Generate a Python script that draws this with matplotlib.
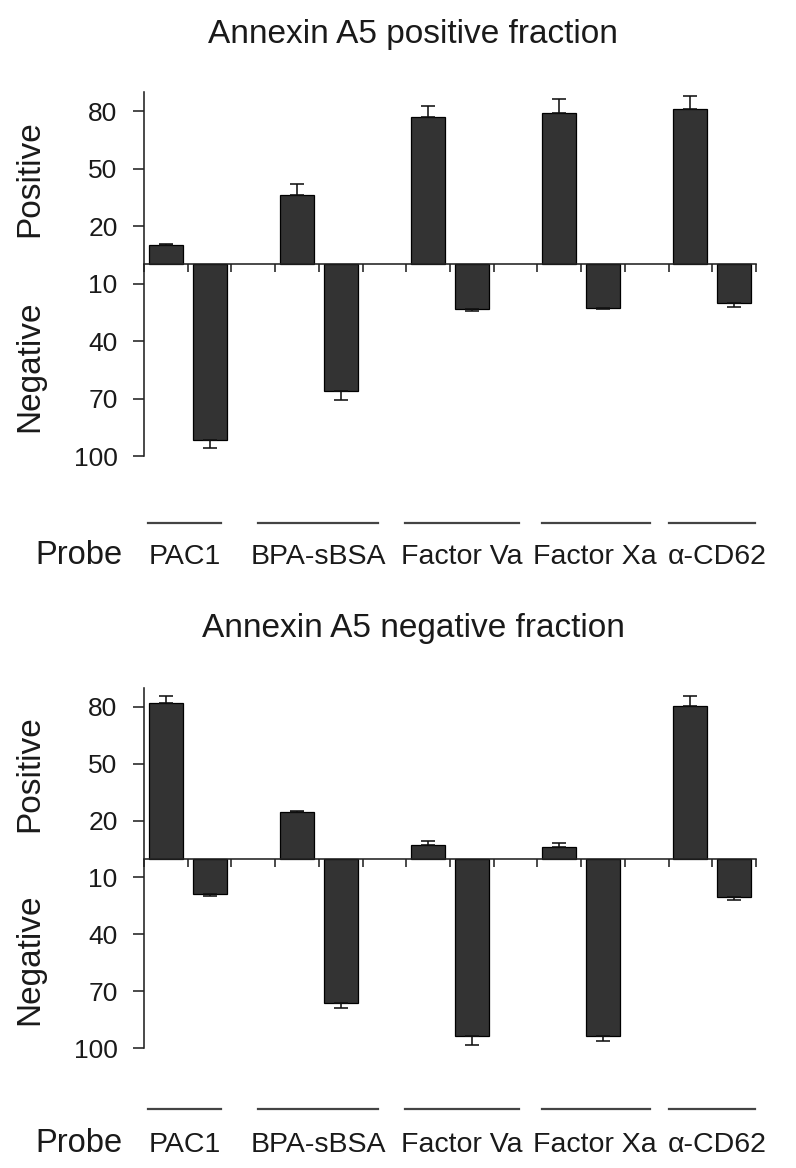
import numpy as np
import matplotlib
matplotlib.use('Agg')
import matplotlib.pyplot as plt
from matplotlib.transforms import blended_transform_factory
from matplotlib.lines import Line2D

### Data (percent of cells)
probes = ['PAC1', 'BPA-sBSA', 'Factor Va', 'Factor Xa', 'α-CD62']
titles = ['Annexin A5 positive fraction', 'Annexin A5 negative fraction']

### Annexin A5 positive fraction
top_pos = [10, 36, 77, 79, 81]
top_pos_err = [0.5, 6, 5.5, 7.5, 7]
top_neg = [91.5, 66, 23.5, 22.5, 20]
top_neg_err = [4.5, 5, 1, 1, 2]

### Annexin A5 negative fraction
bot_pos = [82, 24.5, 7, 6, 80.5]
bot_pos_err = [4, 0.5, 2, 2, 5.5]
bot_neg = [18.5, 76.5, 93.5, 93.5, 20.5]
bot_neg_err = [1.5, 2.5, 5, 3, 1.5]

pos_ticks = [80, 50, 20]
neg_ticks = [10, 40, 70, 100]

W, H = 796, 1168
plt.rcParams['font.family'] = ['Liberation Sans', 'DejaVu Sans']

### Layout (pixels of the output picture)
label_x = [0.94, 3.98, 7.28, 10.32, 13.11]
line_spans = [(0.1, 1.75), (2.6, 5.35), (5.97, 8.58), (9.1, 11.58), (12.0, 13.97)]


def fy(py):
	''' Pixel row (from top) to figure fraction '''
	return 1 - py/H


def draw_panel(fig, top_px, bot_px, title, title_base, line_y, label_base, pos, pos_err, neg, neg_err):
	ax = fig.add_axes([144/W, fy(bot_px), 612/W, (bot_px-top_px)/H])
	n = len(probes)
	xpos = np.arange(n)*3 + 0.5
	xneg = xpos + 1
	pos = np.array(pos)
	neg = -np.array(neg)
	zero = np.zeros(n)

	ax.bar(xpos, pos, width=0.78, color='#333333', edgecolor='black', linewidth=0.9)
	ax.bar(xneg, neg, width=0.78, color='#333333', edgecolor='black', linewidth=0.9)
	### One-sided error bars, pointing away from zero
	ax.errorbar(xpos, pos, yerr=[zero, pos_err], fmt='none', ecolor='#111111',
				elinewidth=1.15, capsize=5, capthick=1.15)
	ax.errorbar(xneg, neg, yerr=[neg_err, zero], fmt='none', ecolor='#111111',
				elinewidth=1.15, capsize=5, capthick=1.15)

	ax.set_xlim(0, 3*n - 1)
	ax.set_ylim(-100, 90)
	ax.spines['top'].set_visible(False)
	ax.spines['right'].set_visible(False)
	ax.spines['bottom'].set_position(('data', 0))
	for s in ['left', 'bottom']:
		ax.spines[s].set_linewidth(1.15)
		ax.spines[s].set_color('#222222')

	ax.set_xticks(np.arange(0, 3*n))
	ax.set_xticklabels([])
	ax.tick_params(axis='x', direction='out', length=6, width=1.15, color='#222222')
	ax.set_yticks(pos_ticks + [-v for v in neg_ticks])
	ax.set_yticklabels([str(v) for v in pos_ticks + neg_ticks])
	ax.tick_params(axis='y', direction='out', length=8, width=1.15, pad=11,
				   labelsize=19, color='#222222', labelcolor='#1a1a1a')

	### Positive / Negative side labels
	tr = blended_transform_factory(ax.transAxes, ax.transData)
	ax.text(-0.186, 45, 'Positive', transform=tr, rotation=90, ha='center', va='center',
			fontsize=24, color='#1a1a1a')
	ax.text(-0.186, -53, 'Negative', transform=tr, rotation=90, ha='center', va='center',
			fontsize=24, color='#1a1a1a')

	fig.text(413/W, fy(title_base), title, ha='center', va='baseline', fontsize=24, color='#1a1a1a')

	### Probe names with a bar over each group
	tr2 = blended_transform_factory(ax.transData, fig.transFigure)
	for name, lx, (x0, x1) in zip(probes, label_x, line_spans):
		fig.add_artist(Line2D([x0, x1], [fy(line_y), fy(line_y)], transform=tr2,
							  color='#444444', linewidth=1.6))
		fig.text(lx, fy(label_base), name, transform=tr2, ha='center', va='baseline',
				 fontsize=20.5, color='#1a1a1a')
	fig.text(79/W, fy(label_base), 'Probe', ha='center', va='baseline', fontsize=23.5, color='#1a1a1a')
	return ax


if __name__ == '__main__':
	fig = plt.figure(figsize=(W/100, H/100), dpi=100)
	draw_panel(fig, 92, 456, titles[0], 43, 523, 564,
			   top_pos, top_pos_err, top_neg, top_neg_err)
	draw_panel(fig, 688, 1048, titles[1], 637, 1109, 1152,
			   bot_pos, bot_pos_err, bot_neg, bot_neg_err)
	fig.savefig('out.png', dpi=100)
